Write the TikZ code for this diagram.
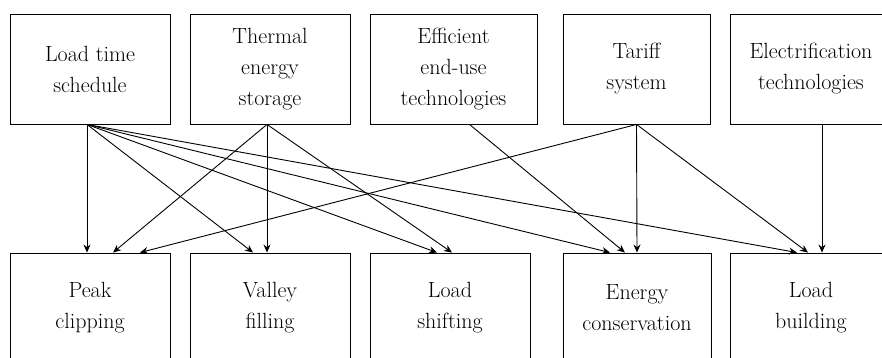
\documentclass[tikz,border=0pt]{standalone}
\usetikzlibrary{arrows.meta}

\begin{document}
\begin{tikzpicture}[
    x=1pt, y=-1pt,
    -{Stealth[length=8pt,width=7pt]},
    line width=0.9pt,
    measure box/.style={draw,line width=0.9pt,minimum height=110pt,inner sep=0pt,
      align=center,font=\fontsize{22}{31}\selectfont},
    target box/.style={measure box}]

  \useasboundingbox (0,0) rectangle (882,358);

  \node[measure box, minimum width=160pt] (LTS) at (90,69) {Load time\\schedule};
  \node[measure box, minimum width=160pt] (TES) at (270,69) {Thermal\\energy\\storage};
  \node[measure box, minimum width=167pt] (EET) at (453.5,69) {Efficient\\end-use\\technologies};
  \node[measure box, minimum width=147pt] (TS) at (636.5,69) {Tariff\\system};
  \node[measure box, minimum width=162pt] (ET) at (811,69) {Electrification\\technologies};

  \node[target box, minimum width=160pt] (PC) at (90,308) {Peak\\clipping};
  \node[target box, minimum width=160pt] (VF) at (270,308) {Valley\\filling};
  \node[target box, minimum width=160pt] (LS) at (450,308) {Load\\shifting};
  \node[target box, minimum width=148pt] (EC) at (637,308) {Energy\\conservation};
  \node[target box, minimum width=162pt] (LB) at (811,308) {Load\\building};

  \path
    ([xshift=-3pt]LTS.south)
         edge ([xshift=-3pt]PC.north)
         edge ([xshift=-17pt]VF.north)
         edge ([xshift=-13pt]LS.north)
         edge ([xshift=-27pt]EC.north)
         edge ([xshift=-14pt]LB.north)
    ([xshift=-3pt]TES.south)
         edge ([xshift=23pt]PC.north)
         edge ([xshift=-3pt]VF.north)
         edge ([xshift=2pt]LS.north)
    ([xshift=16pt]EET.south)
         edge ([xshift=-12pt]EC.north)
    (TS.south)
         edge ([xshift=50pt]PC.north)
         edge (EC.north)
         edge ([xshift=-3pt]LB.north)
    ([xshift=11pt]ET.south)
         edge ([xshift=11pt]LB.north);
\end{tikzpicture}
\end{document}
